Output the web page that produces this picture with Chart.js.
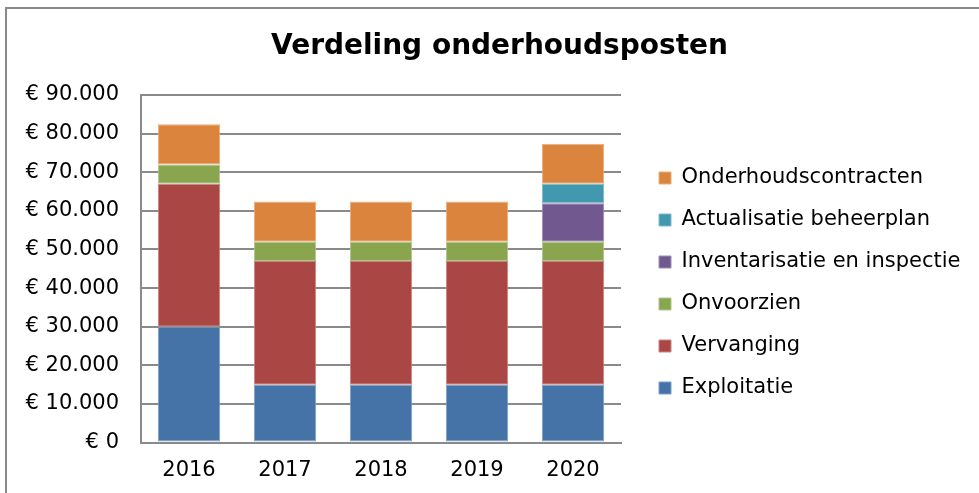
<!DOCTYPE html>
<html>
<head>
<meta charset="utf-8">
<script src="https://cdn.jsdelivr.net/npm/chart.js@4/dist/chart.umd.min.js"></script>
<style>
  html, body { margin: 0; padding: 0; background: #ffffff; }
  #wrap { width: 979px; height: 493px; position: relative; }
</style>
</head>
<body>
<div id="wrap"><canvas id="c"></canvas></div>
<script>
const titleText = 'Verdeling onderhoudsposten';
const years = ['2016', '2017', '2018', '2019', '2020'];
const exploitatie = [30000, 15000, 15000, 15000, 15000];
const vervanging = [37000, 32000, 32000, 32000, 32000];
const onvoorzien = [5000, 5000, 5000, 5000, 5000];
const inventarisatie = [0, 0, 0, 0, 10000];
const actualisatie = [0, 0, 0, 0, 5000];
const onderhoudscontracten = [10400, 10400, 10400, 10400, 10400];
const yMin = 0, yMax = 90000, yStep = 10000;

const FONT = '"DejaVu Sans", Verdana, sans-serif';

const borderPlugin = {
  id: 'frame',
  beforeDraw(chart) {
    const ctx = chart.ctx;
    ctx.save();
    ctx.fillStyle = '#ffffff';
    ctx.fillRect(0, 0, chart.width, chart.height);
    ctx.fillStyle = '#8a8a8a';
    ctx.fillRect(5, 7, 2, chart.height - 7);
    ctx.fillRect(5, 7, chart.width - 5, 2);
    ctx.restore();
  }
};

function mk(label, data, color, edge) {
  return {
    label, data,
    backgroundColor: color,
    borderColor: edge,
    borderWidth: 1,
    borderSkipped: false,
    barPercentage: 0.65,
    categoryPercentage: 1.0
  };
}

const chart = new Chart(document.getElementById('c'), {
  type: 'bar',
  data: {
    labels: years,
    datasets: [
      mk('Exploitatie', exploitatie, '#4572A7', '#7d9ec4'),
      mk('Vervanging', vervanging, '#AA4643', '#c88482'),
      mk('Onvoorzien', onvoorzien, '#89A54E', '#b0c68c'),
      mk('Inventarisatie en inspectie', inventarisatie, '#71588F', '#9f8db4'),
      mk('Actualisatie beheerplan', actualisatie, '#4198AF', '#7fbacb'),
      mk('Onderhoudscontracten', onderhoudscontracten, '#DB843D', '#e8ae7c')
    ]
  },
  options: {
    responsive: true,
    maintainAspectRatio: false,
    animation: false,
    devicePixelRatio: 1,
    layout: { padding: { left: 3.5, right: -16.5, top: 0, bottom: -4.8 } },
    plugins: {
      title: {
        display: true,
        text: titleText,
        color: '#000000',
        font: { family: FONT, size: 28, weight: 'bold', lineHeight: 1.2 },
        padding: { top: 30.2, bottom: 31.2 }
      },
      legend: {
        position: 'right',
        align: 'start',
        reverse: true,
        labels: {
          color: '#000000',
          font: { family: FONT, size: 21 },
          boxWidth: 12,
          boxHeight: 12,
          padding: 21
        }
      },
      tooltip: { enabled: false }
    },
    scales: {
      x: {
        stacked: true,
        grid: { display: false, drawTicks: false },
        border: { display: true, color: '#8a8a8a', width: 2 },
        ticks: { color: '#000000', font: { family: FONT, size: 21 }, padding: 15 }
      },
      y: {
        stacked: true,
        min: yMin, max: yMax,
        grid: { color: '#8a8a8a', lineWidth: 2, drawTicks: false },
        border: { display: true, color: '#8a8a8a', width: 2 },
        ticks: {
          stepSize: yStep,
          color: '#000000',
          font: { family: FONT, size: 21 },
          padding: 22,
          callback: v => '€ ' + Number(v).toLocaleString('de-DE')
        }
      }
    }
  },
  plugins: [borderPlugin]
});

// Legend geometry: fixed width so the plot ends where the reference does,
// and items drawn at the reference placement.
const lg = chart.legend;
const origFit = lg.fit.bind(lg);
lg.fit = function () { origFit(); this.width = 374.5; };
const origDraw = lg.draw.bind(lg);
lg.draw = function () {
  const s = { l: this.left, r: this.right, t: this.top, b: this.bottom };
  this.left = 638; this.right = 1000;
  this.top = 146.5; this.bottom = 493;
  origDraw();
  this.left = s.l; this.right = s.r; this.top = s.t; this.bottom = s.b;
};
chart.update();
</script>
</body>
</html>
